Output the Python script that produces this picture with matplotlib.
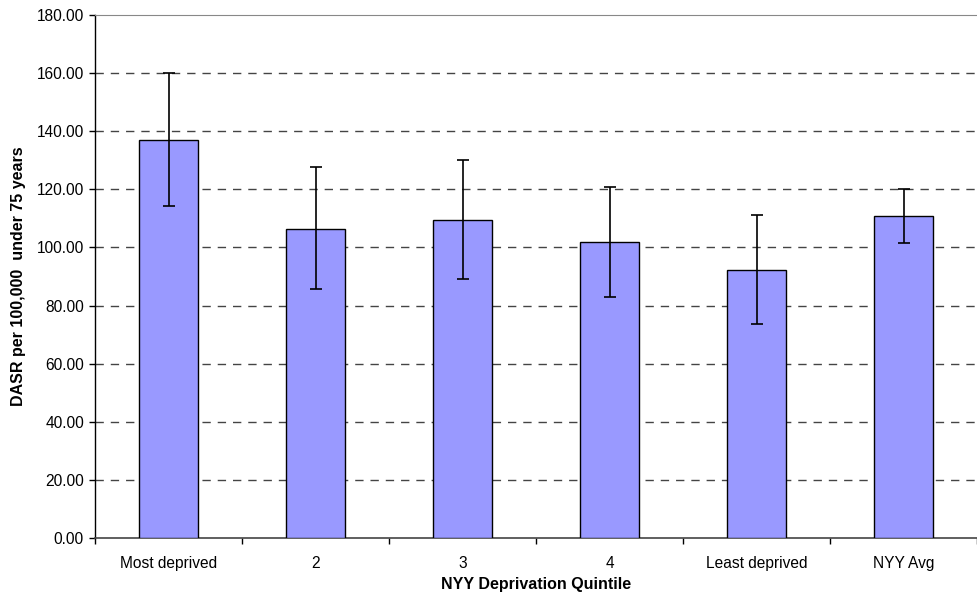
import numpy as np
from matplotlib import pyplot as plt

categories = ['Most deprived', '2', '3', '4', 'Least deprived', 'NYY Avg']
rates = [137.0, 106.5, 109.5, 102.0, 92.2, 110.7]
upper_ci = [160.0, 127.6, 130.0, 120.9, 111.0, 120.0]
lower_ci = [114.2, 85.7, 89.0, 83.0, 73.5, 101.6]

plt.rcParams['font.family'] = ['Liberation Sans', 'DejaVu Sans']

fig = plt.figure(figsize=(9.77, 5.98), dpi=100)
ax = fig.add_axes([95 / 977, 60 / 598, 882 / 977, 523 / 598])

x = np.arange(len(categories))
rates_arr = np.array(rates)
yerr = [rates_arr - np.array(lower_ci), np.array(upper_ci) - rates_arr]

ax.bar(x, rates, width=0.4, color='#9999ff', edgecolor='black', linewidth=1, zorder=3)
ax.errorbar(x, rates, yerr=yerr, fmt='none', ecolor='black', elinewidth=1.2,
            capsize=4, capthick=1.2, zorder=4)

ax.set_xlim(-0.5, len(categories) - 0.5)
ax.set_ylim(0, 180)
ax.set_yticks(np.arange(0, 181, 20))
ax.set_yticklabels([f'{v:.2f}' for v in np.arange(0, 181, 20)], fontsize=11.2)

# category boundaries carry the tick marks, labels sit at centres
ax.set_xticks(np.arange(-0.5, len(categories), 1))
ax.set_xticklabels([])
ax.set_xticks(x, minor=True)
ax.set_xticklabels(categories, minor=True, fontsize=11.2)
ax.tick_params(axis='x', which='minor', length=0, pad=13)
ax.tick_params(axis='x', which='major', length=4, width=1)
ax.tick_params(axis='y', length=4, width=1, pad=4)

for v in np.arange(20, 180, 20):
    ax.axhline(v, color='#444444', linestyle=(0, (6, 5)), linewidth=1, zorder=1)

ax.spines['right'].set_visible(False)
ax.spines['top'].set_color('#888888')
ax.spines['left'].set_linewidth(1)
ax.spines['bottom'].set_linewidth(1.2)
ax.spines['bottom'].set_color('#444444')

ax.set_ylabel('DASR per 100,000  under 75 years', fontsize=11.5, fontweight='bold', labelpad=8)
ax.set_xlabel('NYY Deprivation Quintile', fontsize=11.5, fontweight='bold', labelpad=4)

fig.savefig('out.png', dpi=100)
